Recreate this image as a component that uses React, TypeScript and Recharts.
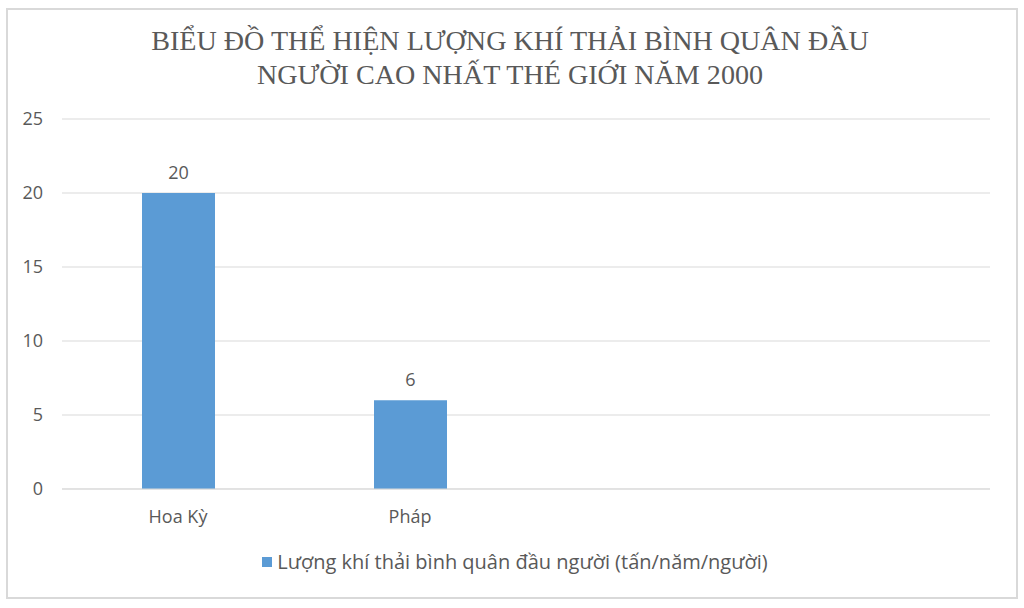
import React from "react";
import { BarChart, Bar, XAxis, YAxis, CartesianGrid, LabelList } from "recharts";

const categories = ["Hoa Kỳ", "Pháp", " ", "  "];
const values: (number | null)[] = [20, 6, null, null];
const yTicks = [0, 5, 10, 15, 20, 25];
const seriesName = "Lượng khí thải bình quân đầu người (tấn/năm/người)";
const titleLines = [
  "BIỂU ĐỒ THỂ HIỆN LƯỢNG KHÍ THẢI BÌNH QUÂN ĐẦU",
  "NGƯỜI CAO NHẤT THÉ GIỚI NĂM 2000",
];

const data = categories.map((c, i) => ({ name: c, value: values[i] }));

const BLUE = "#5B9BD5";
const TEXT = "#595959";
const AXIS_FONT = "'Open Sans', 'Liberation Sans', sans-serif";

export default function App() {
  return (
    <div
      style={{
        position: "absolute",
        left: 0,
        top: 0,
        width: 1024,
        height: 608,
        background: "#fff",
      }}
    >
      <div
        style={{
          position: "absolute",
          left: 6,
          top: 8,
          width: 1008,
          height: 587,
          border: "2px solid #D9D9D9",
        }}
      />
      <div
        style={{
          position: "absolute",
          left: 0,
          top: 24,
          width: 1020,
          textAlign: "center",
          fontFamily: "'Liberation Serif', 'DejaVu Serif', serif",
          fontSize: 28.1,
          lineHeight: "34px",
          color: TEXT,
        }}
      >
        {titleLines.map((t, i) => (
          <div key={i}>{t}</div>
        ))}
      </div>
      <div style={{ position: "absolute", left: 0, top: 0 }}>
        <BarChart
          width={1024}
          height={608}
          data={data}
          margin={{ top: 119, right: 34, bottom: 89, left: 0 }}
        >
          <CartesianGrid vertical={false} stroke="#D9D9D9" strokeWidth={1} />
          <XAxis
            dataKey="name"
            axisLine={{ stroke: "#D9D9D9" }}
            tickLine={false}
            tickMargin={15}
            tick={{ fill: TEXT, fontSize: 18, fontFamily: AXIS_FONT }}
            height={30}
          />
          <YAxis
            width={62}
            domain={[0, 25]}
            ticks={yTicks}
            axisLine={false}
            tickLine={false}
            tickMargin={13}
            tick={{ fill: TEXT, fontSize: 18, fontFamily: AXIS_FONT }}
          />
          <Bar
            dataKey="value"
            name={seriesName}
            fill={BLUE}
            barSize={73}
            isAnimationActive={false}
          >
            <LabelList
              dataKey="value"
              position="top"
              offset={14}
              fill={TEXT}
              fontSize={18}
              fontFamily={AXIS_FONT}
            />
          </Bar>
        </BarChart>
      </div>
      <div
        style={{
          position: "absolute",
          left: 0,
          top: 548,
          width: 1030,
          display: "flex",
          justifyContent: "center",
          alignItems: "center",
          fontFamily: AXIS_FONT,
          fontSize: 20,
          lineHeight: "28px",
          color: TEXT,
        }}
      >
        <span
          style={{
            display: "inline-block",
            width: 10,
            height: 10,
            background: BLUE,
            marginRight: 5,
          }}
        />
        <span>{seriesName}</span>
      </div>
    </div>
  );
}
